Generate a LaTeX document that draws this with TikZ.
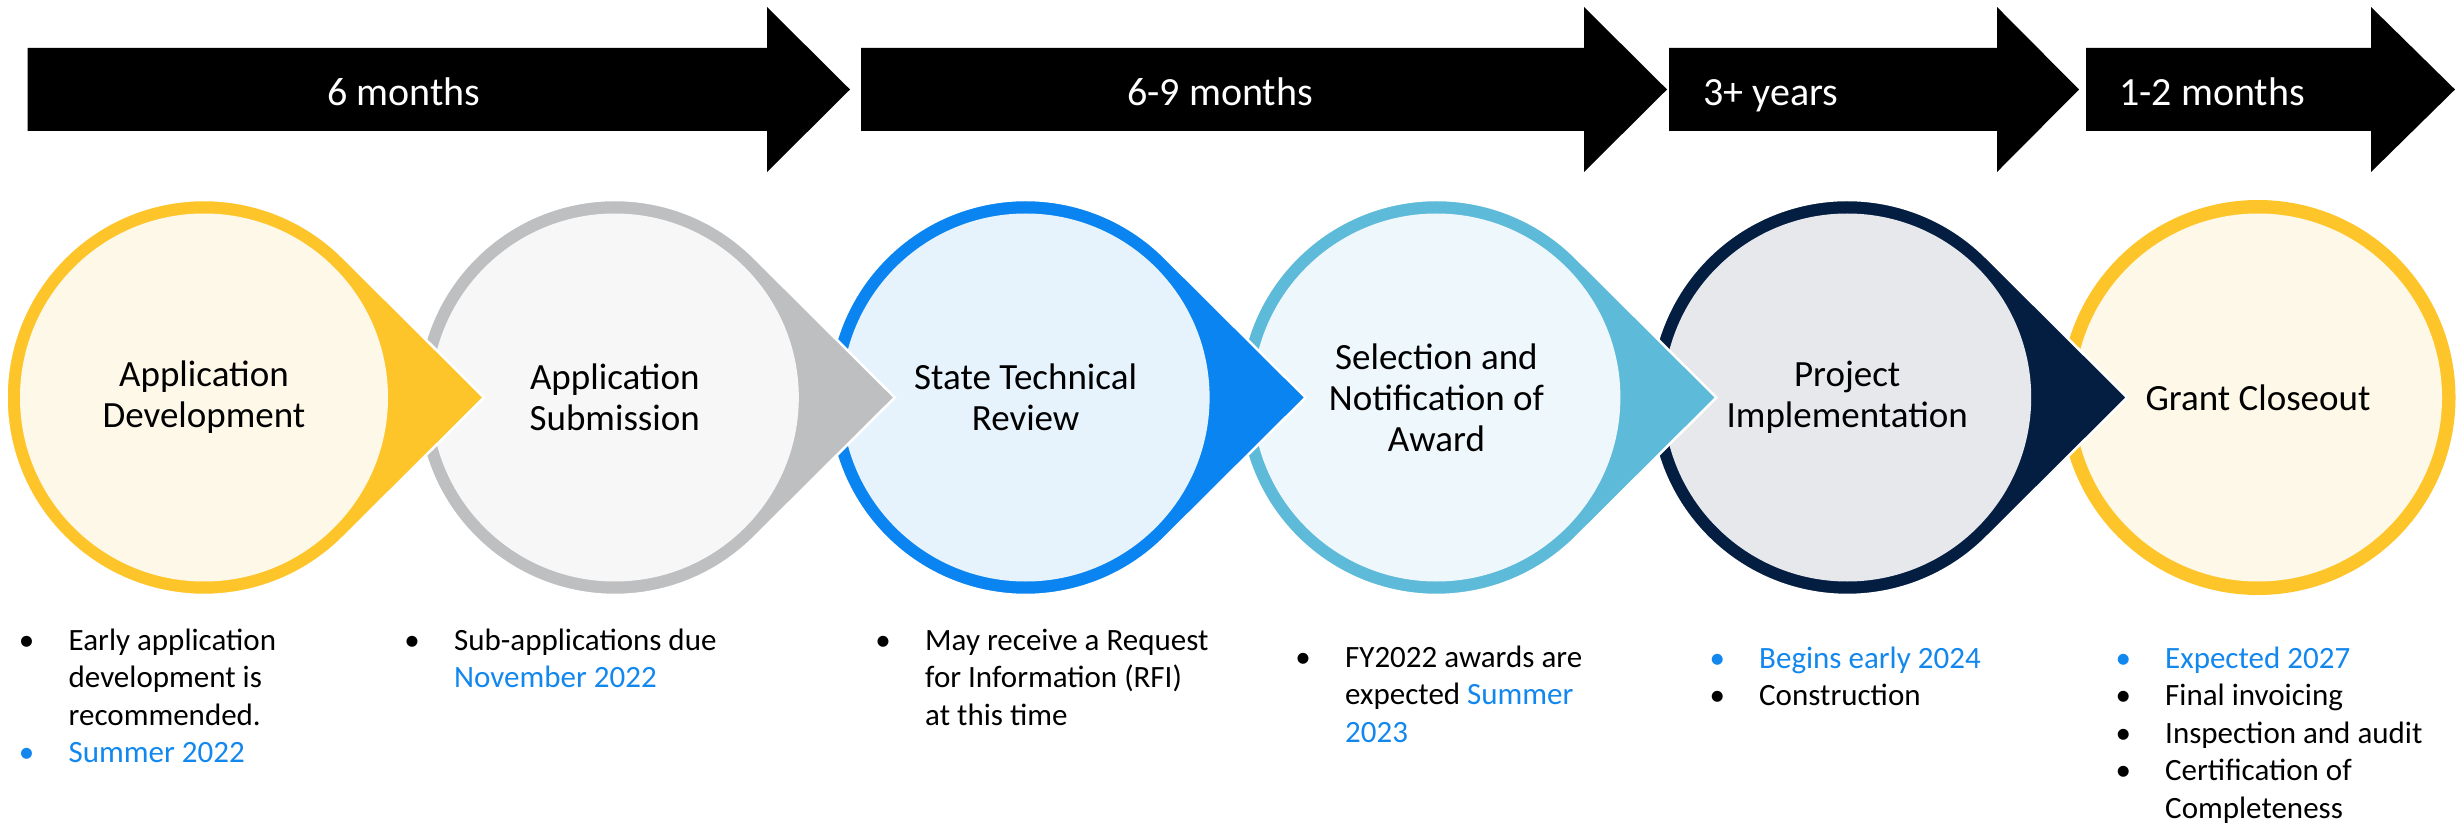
\documentclass[tikz,border=0pt]{standalone}
\usepackage{fontspec}
\setmainfont{Carlito}
\definecolor{ylw}{HTML}{FEC52B}
\definecolor{ylwin}{HTML}{FEF8E8}
\definecolor{gry}{HTML}{BEBFC1}
\definecolor{gryin}{HTML}{F7F7F7}
\definecolor{blu}{HTML}{0A84F0}
\definecolor{bluin}{HTML}{E6F2FC}
\definecolor{lbl}{HTML}{5EBAD9}
\definecolor{lblin}{HTML}{EEF7FB}
\definecolor{nvy}{HTML}{041E42}
\definecolor{nvyin}{HTML}{E6E8EC}
\definecolor{txtblue}{HTML}{1287EE}
\newcommand\bi[1]{\makebox[42pt][l]{\makebox[0pt]{\textbullet}}#1}
\newcommand\bib[1]{{\color{txtblue}\bi{#1}}}
\newcommand\bc[1]{\hspace*{42pt}#1}
\newcommand\dropshape[3]{%
  \path[fill=#2,draw=white,line width=2.5pt] ({#1+280},425.5) -- ({#1+139.3},565.5)
    arc[start angle=45.14,end angle=314.86,radius=197.5] -- cycle;
  \fill[#3] (#1,425.5) circle[radius=184];}
\newcommand\bigarrow[3]{%
  \fill[black] (#1,692) -- (#2,692) -- (#2,651) -- (#3,733.5) -- (#2,816) -- (#2,775) -- (#1,775) -- cycle;}
\begin{document}
\begin{tikzpicture}[x=1pt,y=1pt,
  atext/.style={text=white,font=\fontsize{40}{48}\selectfont,inner sep=0},
  ctext/.style={font=\fontsize{37}{41}\selectfont,align=center,inner sep=0},
  btext/.style={font=\fontsize{31}{37.5}\selectfont,anchor=base west,inner sep=0}]
\useasboundingbox (0,0) rectangle (2464,823);
% top arrows
\bigarrow{27.6}{767}{850}
\bigarrow{861}{1584}{1667}
\bigarrow{1669}{1997}{2079}
\bigarrow{2086}{2371}{2455}
\node[atext,anchor=base] (a1) at (404,717) {6 months};
\node[atext,anchor=base] (a2) at (1220,717) {6-9 months};
\node[atext,anchor=base west] (a3) at (1703,717) {3+ years};
\node[atext,anchor=base west] (a4) at (2119,717) {1-2 months};
% circles, drawn right to left
\fill[ylw] (2258,425.5) circle[radius=197.5];
\fill[ylwin] (2258,425.5) circle[radius=184];
\dropshape{1847.2}{nvy}{nvyin}
\dropshape{1436.4}{lbl}{lblin}
\dropshape{1025.6}{blu}{bluin}
\dropshape{614.8}{gry}{gryin}
\dropshape{204}{ylw}{ylwin}
\node[ctext] (c1) at (204,425.5) {Application\\Development};
\node[ctext] (c2) at (614.8,425.5) {Application\\Submission};
\node[ctext] (c3) at (1025.6,425.5) {State Technical\\Review};
\node[ctext] (c4) at (1436.4,425.5) {Selection and\\Notification of\\Award};
\node[ctext] (c5) at (1847.2,425.5) {Project\\Implementation};
\node[ctext] (c6) at (2258,425.5) {Grant Closeout};
% bullet lists
\node[btext] (b1) at (26.5,173) {\begin{tabular}[t]{@{}l@{}}\bi{Early application}\\ \bc{development is}\\ \bc{recommended.}\\ \bib{Summer 2022}\end{tabular}};
\node[btext] (b2) at (412,173) {\begin{tabular}[t]{@{}l@{}}\bi{Sub-applications due}\\ \bc{\color{txtblue}November 2022}\end{tabular}};
\node[btext] (b3) at (883,173) {\begin{tabular}[t]{@{}l@{}}\bi{May receive a Request}\\ \bc{for Information (RFI)}\\ \bc{at this time}\end{tabular}};
\node[btext] (b4) at (1303,156) {\begin{tabular}[t]{@{}l@{}}\bi{FY2022 awards are}\\ \bc{expected {\color{txtblue}Summer}}\\ \bc{\color{txtblue}2023}\end{tabular}};
\node[btext] (b5) at (1717,155) {\begin{tabular}[t]{@{}l@{}}\bib{Begins early 2024}\\ \bi{Construction}\end{tabular}};
\node[btext] (b6) at (2123,155) {\begin{tabular}[t]{@{}l@{}}\bib{Expected 2027}\\ \bi{Final invoicing}\\ \bi{Inspection and audit}\\ \bi{Certification of}\\ \bc{Completeness}\end{tabular}};
\end{tikzpicture}
\end{document}
